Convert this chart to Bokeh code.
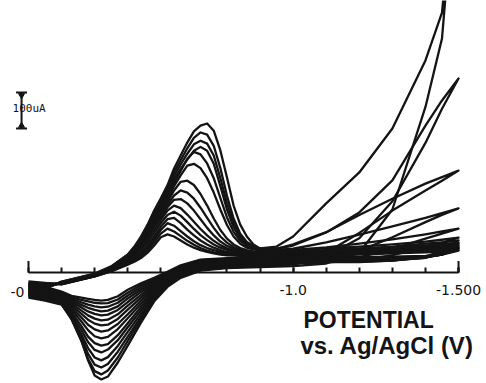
from bokeh.plotting import figure
from bokeh.models import Range1d, FixedTicker, Label
from bokeh.embed import file_html
from bokeh.resources import INLINE

# ---- potentials (V vs Ag/AgCl) ----
fwd_E = [-0.20, -0.30, -0.40, -0.45, -0.50, -0.52, -0.54, -0.56, -0.58, -0.60,
         -0.62, -0.64, -0.66, -0.68, -0.70, -0.72, -0.74, -0.76, -0.78, -0.80,
         -0.82, -0.84, -0.86, -0.88, -0.90, -0.95, -1.00, -1.10, -1.20, -1.30,
         -1.40, -1.45, -1.50]
rev_E = [-1.50, -1.45, -1.40, -1.30, -1.20, -1.10, -1.00, -0.90, -0.80, -0.72,
         -0.66, -0.62, -0.58, -0.54, -0.50, -0.47, -0.44, -0.42, -0.40, -0.38,
         -0.36, -0.33, -0.30, -0.25, -0.20]

# ---- currents (uA, cathodic up), forward (cathodic) sweeps ----
fwd_c15 = [-65, -25, -3, 17, 50, 72, 100, 133, 172, 206, 242, 289, 325, 361, 392, 408, 414, 394, 339, 264, 186, 133, 100, 78, 67, 72, 100, 192, 278, 400, 589, 722, 1200]
fwd_c14 = [-62, -26, -4, 16, 48, 70, 97, 129, 166, 199, 234, 278, 312, 345, 374, 389, 383, 352, 290, 213, 150, 108, 85, 74, 66, 66, 75, 111, 167, 256, 408, 478, 539]
fwd_c13 = [-59, -27, -5, 15, 47, 68, 94, 125, 161, 193, 226, 268, 300, 330, 356, 366, 358, 325, 262, 192, 138, 103, 82, 72, 65, 66, 78, 112, 160, 205, 247, 265, 283]
fwd_c12 = [-56, -28, -6, 14, 46, 66, 91, 121, 156, 187, 219, 258, 288, 314, 338, 349, 338, 302, 240, 175, 126, 95, 78, 69, 64, 63, 66, 84, 105, 128, 152, 165, 178]
fwd_c11 = [-53, -28, -6, 13, 44, 64, 88, 117, 151, 181, 212, 249, 282, 316, 335, 328, 303, 262, 207, 153, 113, 88, 74, 67, 63, 62, 63, 70, 80, 92, 106, 114, 122]
fwd_c10 = [-50, -29, -7, 12, 43, 62, 85, 113, 146, 175, 205, 240, 270, 297, 302, 290, 262, 222, 175, 132, 100, 80, 69, 64, 61, 60, 61, 67, 72, 78, 86, 91, 97]
fwd_c09 = [-47, -29, -7, 11, 41, 60, 82, 108, 139, 166, 196, 228, 252, 255, 243, 218, 186, 150, 118, 94, 78, 68, 62, 59, 58, 57, 58, 62, 67, 72, 80, 84, 89]
fwd_c08 = [-44, -30, -8, 10, 40, 58, 79, 104, 133, 160, 188, 214, 228, 222, 205, 180, 152, 124, 100, 83, 71, 64, 59, 57, 56, 55, 56, 60, 64, 69, 75, 79, 83]
fwd_c07 = [-41, -30, -8, 9, 38, 56, 76, 100, 128, 154, 181, 202, 204, 192, 172, 148, 124, 103, 86, 74, 66, 60, 57, 55, 54, 54, 55, 58, 62, 67, 72, 76, 80]
fwd_c06 = [-38, -30, -9, 8, 34, 50, 69, 92, 119, 146, 172, 186, 179, 161, 141, 121, 103, 88, 76, 67, 61, 57, 55, 53, 52, 52, 53, 56, 60, 64, 69, 72, 76]
fwd_c05 = [-35, -31, -9, 7, 31, 45, 62, 84, 110, 137, 160, 169, 158, 140, 121, 104, 90, 78, 69, 63, 58, 55, 53, 52, 51, 50, 51, 54, 58, 62, 66, 69, 72]
fwd_c04 = [-33, -31, -10, 6, 28, 40, 55, 75, 100, 127, 148, 152, 137, 119, 103, 89, 78, 69, 62, 57, 54, 52, 51, 50, 49, 49, 50, 53, 56, 60, 64, 66, 69]
fwd_c03 = [-30, -32, -10, 5, 26, 36, 50, 68, 92, 118, 137, 130, 115, 100, 87, 76, 68, 62, 57, 54, 51, 49, 48, 48, 47, 47, 48, 51, 54, 57, 61, 64, 67]
fwd_c02 = [-28, -32, -11, 4, 24, 33, 45, 62, 84, 108, 122, 114, 101, 88, 77, 68, 61, 56, 53, 50, 49, 47, 46, 46, 45, 45, 46, 49, 52, 55, 59, 61, 64]
fwd_c01 = [-25, -33, -11, 3, 22, 30, 40, 55, 75, 98, 106, 100, 89, 78, 69, 62, 57, 53, 50, 48, 47, 46, 45, 45, 44, 44, 44, 47, 50, 53, 56, 58, 61]

# ---- reverse (anodic) sweeps ----
rev_c15 = [1200, 650, 460, 175, 55, 25, 18, 15, 12, 5, -15, -40, -80, -139, -203, -250, -289, -297, -286, -244, -189, -128, -89, -78, -70]
rev_c14 = [539, 455, 360, 198, 95, 45, 22, 17, 14, 8, -10, -36, -74, -131, -190, -236, -272, -283, -274, -240, -190, -130, -88, -76, -67]
rev_c13 = [283, 255, 228, 172, 110, 55, 26, 19, 15, 10, -6, -32, -69, -123, -178, -220, -254, -264, -256, -226, -182, -126, -86, -73, -64]
rev_c12 = [178, 160, 140, 98, 60, 35, 24, 20, 17, 12, -3, -28, -63, -114, -165, -204, -235, -244, -236, -210, -172, -122, -84, -70, -61]
rev_c11 = [122, 108, 94, 66, 42, 29, 25, 22, 19, 14, 0, -25, -57, -105, -152, -188, -214, -222, -215, -193, -160, -116, -82, -67, -58]
rev_c10 = [97, 82, 70, 48, 33, 28, 27, 24, 21, 17, 2, -22, -52, -96, -141, -174, -199, -203, -196, -178, -149, -110, -80, -64, -55]
rev_c09 = [89, 60, 44, 33, 29, 29, 29, 26, 23, 19, 4, -19, -47, -87, -127, -157, -179, -183, -177, -160, -136, -103, -77, -61, -52]
rev_c08 = [83, 56, 42, 33, 30, 30, 31, 28, 25, 21, 6, -16, -42, -78, -116, -143, -161, -164, -158, -145, -125, -97, -74, -58, -49]
rev_c07 = [80, 54, 41, 34, 31, 32, 33, 30, 27, 23, 8, -13, -37, -70, -103, -129, -145, -147, -142, -131, -115, -91, -71, -55, -46]
rev_c06 = [76, 52, 41, 35, 33, 34, 35, 32, 29, 26, 10, -10, -33, -62, -92, -116, -131, -133, -128, -119, -106, -86, -68, -52, -43]
rev_c05 = [72, 50, 42, 36, 35, 36, 37, 34, 31, 28, 12, -7, -29, -54, -82, -104, -117, -119, -115, -108, -97, -81, -65, -49, -40]
rev_c04 = [69, 50, 43, 38, 37, 38, 39, 36, 34, 30, 14, -4, -25, -47, -72, -94, -106, -108, -104, -98, -90, -77, -62, -47, -38]
rev_c03 = [67, 50, 44, 40, 39, 40, 41, 38, 36, 32, 16, -2, -21, -41, -64, -84, -95, -97, -94, -89, -83, -73, -59, -45, -35]
rev_c02 = [64, 50, 45, 42, 41, 42, 43, 40, 38, 34, 18, 0, -18, -35, -56, -75, -85, -86, -84, -80, -76, -69, -56, -43, -33]
rev_c01 = [61, 50, 46, 44, 43, 44, 45, 42, 40, 36, 20, 2, -15, -30, -48, -66, -76, -78, -76, -73, -70, -65, -53, -40, -30]

# ---- axis ticks / labels ----
tick_V = [-0.2, -0.3, -0.4, -0.5, -0.6, -0.7, -0.8, -0.9, -1.0, -1.1, -1.2, -1.3, -1.4, -1.5]
labelled_V = [-1.0, -1.5]
tick_labels = {-1.0: "-1.0", -1.5: "-1.500"}
end_ticks_V = [-0.2, -1.5]
scale_bar_uA = 100

fwd_all = [fwd_c01, fwd_c02, fwd_c03, fwd_c04, fwd_c05, fwd_c06, fwd_c07, fwd_c08,
           fwd_c09, fwd_c10, fwd_c11, fwd_c12, fwd_c13, fwd_c14, fwd_c15]
rev_all = [rev_c01, rev_c02, rev_c03, rev_c04, rev_c05, rev_c06, rev_c07, rev_c08,
           rev_c09, rev_c10, rev_c11, rev_c12, rev_c13, rev_c14, rev_c15]

INK = "#141414"

p = figure(width=486, height=383, output_backend="svg", toolbar_location=None,
           x_range=Range1d(-0.11536, -1.58452), y_range=Range1d(-308.3, 755.6),
           y_axis_location=None, min_border=0)
p.min_border_left = p.min_border_right = p.min_border_top = p.min_border_bottom = 0
p.grid.visible = False
p.outline_line_color = None
p.background_fill_color = "white"
p.border_fill_color = "white"

xs, ys = [], []
for f, r in zip(fwd_all, rev_all):
    assert len(f) == len(fwd_E) and len(r) == len(rev_E)
    xs.append(fwd_E + rev_E)
    ys.append(f + r)
p.multi_line(xs, ys, line_color=INK, line_width=2.3, line_join="round")

ax = p.xaxis[0]
ax.fixed_location = 0
ax.bounds = (-1.5, -0.2)
ax.ticker = FixedTicker(ticks=labelled_V, minor_ticks=tick_V)
ax.major_tick_in = 5
ax.major_tick_out = 0
ax.minor_tick_in = 5
ax.minor_tick_out = 0
ax.major_tick_line_color = INK
ax.minor_tick_line_color = INK
ax.major_tick_line_width = 2
ax.minor_tick_line_width = 2
ax.axis_line_color = INK
ax.axis_line_width = 2
ax.major_label_overrides = tick_labels
ax.major_label_text_font = "DejaVu Sans"
ax.major_label_text_font_size = "14px"
ax.major_label_text_color = INK
ax.major_label_standoff = 12

# taller end ticks
p.segment(x0=end_ticks_V, y0=[0, 0], x1=end_ticks_V, y1=[32, 32], line_color=INK, line_width=2)

p.add_layout(Label(x=-0.2, y=0, x_offset=-4, y_offset=-19, text="-0", text_align="right",
                   text_baseline="middle", text_font="DejaVu Sans", text_font_size="14px",
                   text_color=INK))

# scale bar 100 uA
bar_V = -0.179
bar_lo = 400
p.segment(x0=[bar_V], y0=[bar_lo], x1=[bar_V], y1=[bar_lo + scale_bar_uA], line_color=INK, line_width=2)
p.scatter(x=[bar_V, bar_V], y=[bar_lo, bar_lo + scale_bar_uA], marker="dash", size=11,
          line_color=INK, line_width=2)
p.scatter(x=[bar_V], y=[bar_lo + 8], marker="triangle", size=6, fill_color=INK, line_color=INK)
p.scatter(x=[bar_V], y=[bar_lo + scale_bar_uA - 8], marker="inverted_triangle", size=6,
          fill_color=INK, line_color=INK)
p.add_layout(Label(x=-0.152, y=bar_lo + 56, text="100uA", text_baseline="middle",
                   text_font="DejaVu Sans Mono", text_font_size="11px", text_color=INK))

p.add_layout(Label(x=-1.031, y=-169, text="POTENTIAL", text_font="Liberation Sans",
                   text_font_style="bold", text_font_size="23px", text_color=INK))
p.add_layout(Label(x=-1.022, y=-239, text="vs. Ag/AgCl (V)", text_font="Liberation Sans",
                   text_font_style="bold", text_font_size="24px", text_color=INK))

open("out.html", "w").write(file_html(p, INLINE))
